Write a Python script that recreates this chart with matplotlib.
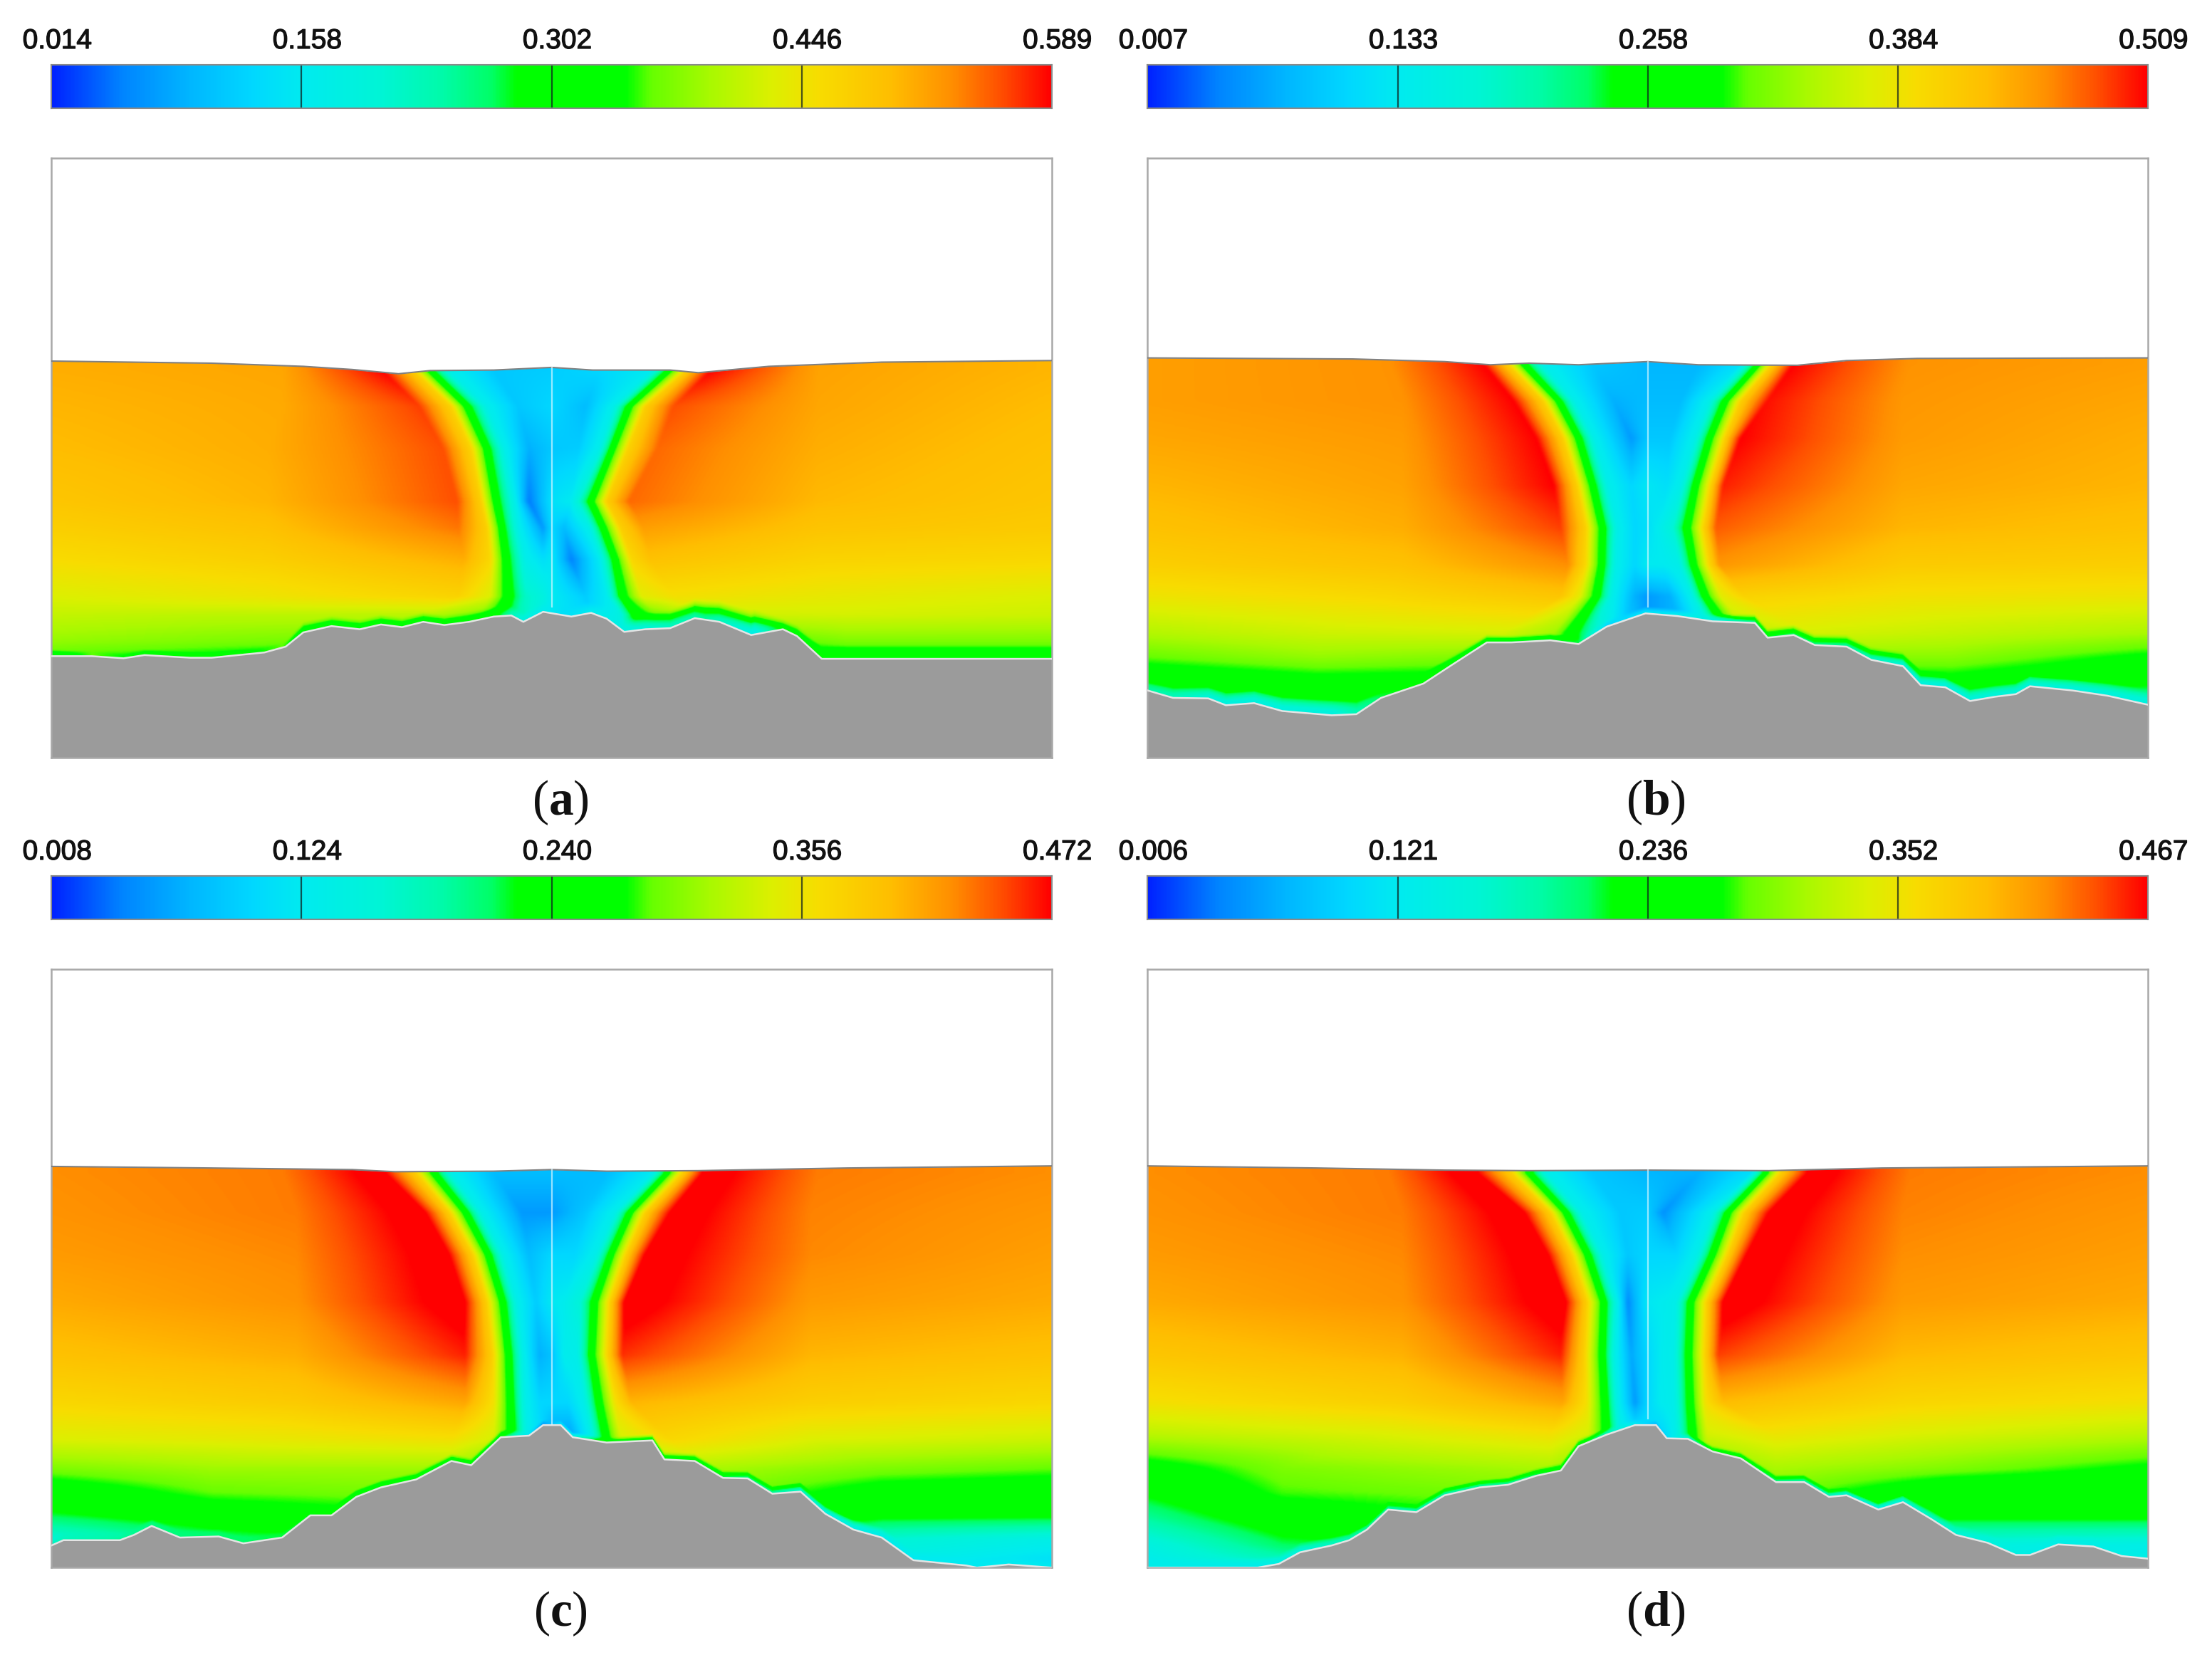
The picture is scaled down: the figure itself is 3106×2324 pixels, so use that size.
#!/usr/bin/python
import numpy as np
import matplotlib
matplotlib.use("Agg")
import matplotlib.pyplot as plt
import matplotlib.patheffects as pe
from matplotlib.colors import LinearSegmentedColormap

plt.rcParams["mathtext.fontset"] = "custom"
plt.rcParams["mathtext.rm"] = "Liberation Serif"
plt.rcParams["mathtext.bf"] = "Liberation Serif:bold"

# colour bar labels of the four panels
labels_a = ["0.014", "0.158", "0.302", "0.446", "0.589"]
labels_b = ["0.007", "0.133", "0.258", "0.384", "0.509"]
labels_c = ["0.008", "0.124", "0.240", "0.356", "0.472"]
labels_d = ["0.006", "0.121", "0.236", "0.352", "0.467"]

# free surface and bed
surf_x_a = [73, 300, 430, 500, 565, 610, 700, 782, 840, 950, 990, 1090, 1250, 1491]
surf_y_a = [684, 688, 694, 700, 708, 702, 701, 696, 701, 701, 706, 694, 686, 683]
bed_x_a = [73, 130, 175, 205, 270, 300, 375, 405, 430, 470, 510, 540, 570, 600, 630, 665, 700, 725, 742, 770, 810, 838, 860, 885, 915, 950, 985, 1020, 1065, 1110, 1130, 1165, 1491]
bed_y_a = [1243, 1243, 1247, 1241, 1246, 1246, 1236, 1225, 1198, 1186, 1192, 1183, 1188, 1178, 1184, 1178, 1168, 1166, 1178, 1159, 1168, 1161, 1172, 1197, 1192, 1190, 1171, 1178, 1203, 1192, 1205, 1248, 1248]

surf_x_b = [59, 350, 480, 545, 600, 670, 768, 840, 980, 1050, 1150, 1477]
surf_y_b = [678, 680, 685, 691, 688, 691, 685, 691, 692, 683, 679, 678]
bed_x_b = [59, 95, 145, 170, 210, 250, 320, 355, 390, 450, 490, 540, 575, 630, 670, 710, 765, 810, 860, 920, 938, 975, 1005, 1050, 1085, 1130, 1155, 1190, 1225, 1260, 1290, 1310, 1370, 1420, 1477]
bed_y_b = [1308, 1322, 1323, 1336, 1332, 1347, 1355, 1353, 1322, 1295, 1260, 1217, 1217, 1213, 1220, 1187, 1162, 1167, 1177, 1180, 1208, 1203, 1222, 1225, 1250, 1262, 1298, 1302, 1328, 1320, 1315, 1300, 1308, 1318, 1335]

surf_x_c = [73, 300, 500, 560, 700, 782, 860, 990, 1200, 1491]
surf_y_c = [642, 645, 648, 652, 651, 648, 651, 650, 645, 641]
bed_x_c = [73, 90, 170, 190, 215, 255, 310, 345, 400, 440, 470, 505, 540, 590, 640, 668, 710, 750, 770, 795, 812, 860, 925, 942, 985, 1025, 1060, 1095, 1135, 1170, 1210, 1250, 1295, 1370, 1385, 1430, 1491]
bed_y_c = [1360, 1350, 1350, 1340, 1323, 1345, 1343, 1356, 1345, 1303, 1303, 1268, 1250, 1235, 1200, 1208, 1155, 1152, 1132, 1132, 1155, 1165, 1161, 1197, 1200, 1232, 1233, 1262, 1258, 1300, 1330, 1345, 1388, 1398, 1402, 1396, 1402]

surf_x_d = [59, 300, 480, 600, 768, 940, 1100, 1477]
surf_y_d = [641, 645, 649, 650, 649, 650, 645, 641]
bed_x_d = [59, 215, 245, 275, 320, 345, 370, 400, 440, 480, 530, 570, 610, 645, 670, 710, 750, 780, 795, 825, 860, 900, 950, 990, 1025, 1050, 1095, 1130, 1170, 1205, 1250, 1290, 1310, 1350, 1400, 1440, 1477]
bed_y_d = [1402, 1402, 1395, 1373, 1360, 1350, 1330, 1292, 1297, 1265, 1250, 1245, 1228, 1218, 1172, 1150, 1132, 1132, 1157, 1158, 1182, 1195, 1240, 1240, 1268, 1265, 1292, 1278, 1310, 1340, 1355, 1378, 1378, 1358, 1362, 1380, 1385]

# field control rows: y level, node x positions, value as a fraction of the colour bar
rows_a = [700, 770, 850, 950, 1000, 1060, 1130, 1165, 1215, 1250]
nodes_a = [
    [73, 400, 540, 585, 608, 635, 700, 782, 850, 925, 950, 975, 1010, 1160, 1491],
    [73, 400, 595, 640, 662, 690, 735, 782, 830, 870, 892, 915, 955, 1160, 1491],
    [73, 380, 628, 668, 690, 715, 750, 782, 820, 850, 868, 890, 932, 1160, 1491],
    [73, 380, 648, 682, 703, 730, 750, 782, 810, 820, 838, 860, 892, 1160, 1491],
    [73, 380, 650, 690, 711, 735, 770, 782, 800, 835, 855, 880, 912, 1160, 1491],
    [73, 380, 658, 695, 717, 745, 770, 782, 810, 850, 872, 895, 922, 1160, 1491],
    [73, 380, 650, 695, 720, 745, 770, 782, 830, 860, 882, 910, 955, 1160, 1491],
    [73, 300, 600, 680, 712, 735, 770, 782, 840, 880, 900, 930, 1000, 1200, 1491],
    [73, 300, 600, 680, 712, 735, 770, 782, 840, 880, 900, 930, 1000, 1200, 1491],
    [73, 300, 600, 680, 712, 735, 770, 782, 840, 880, 900, 930, 1000, 1200, 1491],
]
frac_a = [
    [.86, .87, 1.0, .80, .52, .27, .17, .18, .20, .25, .52, .80, 1.0, .875, .85],
    [.85, .865, .96, .79, .52, .27, .17, .20, .15, .27, .52, .80, .95, .87, .84],
    [.84, .86, .95, .79, .52, .27, .13, .17, .18, .27, .52, .79, .93, .86, .83],
    [.82, .85, .95, .80, .52, .27, .06, .22, .25, .33, .52, .80, .93, .845, .82],
    [.80, .83, .92, .80, .52, .27, .10, .20, .15, .27, .52, .80, .88, .825, .81],
    [.77, .80, .86, .78, .52, .27, .22, .24, .07, .25, .52, .78, .83, .79, .78],
    [.72, .75, .79, .72, .52, .35, .30, .25, .18, .25, .52, .73, .76, .74, .72],
    [.69, .68, .68, .62, .52, .38, .28, .24, .20, .30, .52, .60, .70, .71, .70],
    [.64, .62, .60, .56, .50, .38, .28, .24, .20, .30, .50, .56, .56, .62, .62],
    [.58, .55, .50, .50, .50, .38, .28, .24, .20, .30, .50, .50, .50, .52, .52],
]
layer_x_a = [73, 130, 280, 400, 430, 700, 740, 800, 890, 1000, 1070, 1110, 1160, 1491]
layer_v_a = [.50, .60, .50, .60, .50, .50, .30, .22, .30, .40, .28, .50, .50, .50]
layer_h_a = [14, 12, 12, 12, 22, 20, 20, 20, 30, 42, 50, 22, 26, 26]

rows_b = [690, 760, 830, 920, 1000, 1070, 1130, 1200, 1245, 1285, 1340]
nodes_b = [
    [59, 400, 535, 570, 592, 620, 690, 768, 840, 900, 925, 945, 975, 1140, 1477],
    [59, 420, 578, 620, 642, 665, 720, 768, 815, 855, 878, 900, 938, 1130, 1477],
    [59, 420, 610, 648, 670, 692, 745, 768, 800, 835, 856, 878, 900, 1130, 1477],
    [59, 420, 635, 668, 690, 712, 745, 768, 795, 815, 836, 858, 875, 1130, 1477],
    [59, 420, 645, 680, 704, 725, 750, 768, 785, 803, 824, 848, 865, 1130, 1477],
    [59, 420, 655, 680, 703, 723, 750, 768, 790, 812, 833, 855, 870, 1130, 1477],
    [59, 400, 645, 672, 696, 718, 750, 768, 800, 830, 849, 872, 905, 1130, 1477],
    [59, 300, 560, 635, 660, 685, 730, 768, 820, 860, 885, 910, 1000, 1200, 1477],
    [59, 300, 560, 635, 660, 685, 730, 768, 820, 860, 885, 910, 1000, 1200, 1477],
    [59, 300, 560, 635, 660, 685, 730, 768, 820, 860, 885, 910, 1000, 1200, 1477],
    [59, 300, 560, 635, 660, 685, 730, 768, 820, 860, 885, 910, 1000, 1200, 1477],
]
frac_b = [
    [.88, .895, 1.0, .80, .52, .27, .17, .14, .14, .22, .52, .80, 1.0, .895, .88],
    [.88, .895, 1.0, .80, .52, .27, .13, .15, .15, .27, .52, .80, .99, .89, .87],
    [.87, .885, 1.0, .80, .52, .27, .10, .17, .17, .27, .52, .80, 1.0, .885, .86],
    [.85, .875, 1.0, .80, .52, .27, .20, .24, .22, .27, .52, .80, .98, .87, .85],
    [.83, .86, .96, .80, .52, .27, .20, .22, .26, .32, .52, .80, .94, .85, .83],
    [.80, .83, .90, .78, .52, .27, .20, .25, .25, .27, .52, .78, .89, .81, .80],
    [.75, .78, .82, .73, .52, .27, .13, .10, .13, .27, .52, .73, .79, .76, .75],
    [.67, .70, .71, .65, .52, .38, .20, .10, .15, .30, .52, .68, .71, .69, .66],
    [.60, .64, .62, .60, .52, .38, .20, .10, .15, .30, .52, .60, .63, .63, .56],
    [.52, .56, .55, .55, .52, .38, .20, .10, .15, .30, .52, .55, .55, .56, .50],
    [.42, .46, .46, .46, .46, .38, .20, .10, .15, .30, .46, .46, .46, .42, .36],
]
layer_x_b = [59, 170, 320, 390, 490, 570, 670, 710, 860, 940, 1050, 1150, 1300, 1477]
layer_v_b = [.40, .30, .30, .45, .50, .45, .45, .20, .30, .45, .40, .30, .32, .30]
layer_h_b = [25, 30, 35, 25, 20, 15, 15, 15, 15, 20, 25, 30, 30, 30]

rows_c = [655, 730, 810, 900, 1000, 1090, 1160, 1215, 1260, 1300, 1350, 1402]
nodes_c = [
    [73, 400, 540, 590, 615, 640, 700, 782, 860, 925, 946, 968, 1000, 1160, 1491],
    [73, 420, 598, 637, 660, 683, 740, 782, 830, 872, 893, 915, 955, 1150, 1491],
    [73, 420, 632, 670, 692, 714, 750, 782, 815, 845, 866, 888, 918, 1150, 1491],
    [73, 420, 655, 690, 713, 733, 760, 782, 800, 822, 843, 865, 888, 1150, 1491],
    [73, 420, 660, 698, 721, 742, 765, 782, 800, 818, 839, 862, 882, 1150, 1491],
    [73, 420, 660, 700, 724, 745, 765, 782, 805, 828, 849, 872, 895, 1150, 1491],
    [73, 400, 640, 700, 727, 748, 770, 782, 810, 838, 859, 880, 950, 1150, 1491],
    [73, 300, 640, 690, 727, 748, 770, 782, 810, 838, 859, 880, 1000, 1250, 1491],
    [73, 300, 640, 690, 727, 748, 770, 782, 810, 838, 859, 880, 1000, 1250, 1491],
    [73, 300, 640, 690, 727, 748, 770, 782, 810, 838, 859, 880, 1000, 1250, 1491],
    [73, 300, 640, 690, 727, 748, 770, 782, 810, 838, 859, 880, 1000, 1250, 1491],
    [73, 300, 640, 690, 727, 748, 770, 782, 810, 838, 859, 880, 1000, 1250, 1491],
]
frac_c = [
    [.90, .915, 1.03, .80, .52, .27, .15, .15, .15, .25, .52, .80, 1.03, .915, .90],
    [.895, .915, 1.03, .80, .52, .27, .10, .10, .17, .27, .52, .80, 1.03, .91, .89],
    [.885, .905, 1.03, .80, .52, .27, .15, .20, .20, .27, .52, .80, 1.03, .905, .88],
    [.865, .895, 1.03, .80, .52, .27, .18, .24, .26, .32, .52, .80, 1.03, .885, .865],
    [.83, .86, .98, .80, .52, .27, .13, .16, .26, .27, .52, .80, .97, .85, .83],
    [.78, .81, .87, .76, .52, .27, .20, .20, .20, .27, .52, .76, .85, .80, .78],
    [.72, .74, .76, .71, .52, .27, .20, .10, .10, .27, .52, .71, .78, .72, .70],
    [.62, .65, .65, .60, .52, .30, .20, .10, .10, .30, .52, .60, .66, .62, .60],
    [.52, .60, .62, .58, .52, .30, .20, .10, .10, .30, .52, .58, .63, .54, .52],
    [.46, .53, .58, .56, .52, .30, .20, .10, .10, .30, .52, .56, .60, .50, .50],
    [.32, .42, .50, .50, .50, .30, .20, .10, .10, .30, .50, .50, .50, .33, .28],
    [.26, .34, .45, .45, .45, .30, .20, .10, .10, .30, .45, .45, .45, .26, .20],
]
layer_x_c = [73, 215, 400, 640, 710, 770, 860, 950, 1095, 1170, 1295, 1491]
layer_v_c = [.36, .42, .45, .50, .50, .10, .55, .50, .40, .30, .25, .25]
layer_h_c = [15, 15, 15, 15, 15, 10, 10, 15, 15, 20, 20, 20]

rows_d = [655, 730, 810, 900, 1000, 1090, 1150, 1215, 1260, 1310, 1360, 1402]
nodes_d = [
    [59, 400, 520, 575, 600, 625, 690, 768, 840, 915, 935, 957, 1000, 1140, 1477],
    [59, 420, 588, 630, 652, 675, 730, 768, 790, 860, 882, 905, 945, 1130, 1477],
    [59, 420, 622, 660, 683, 705, 740, 768, 810, 838, 860, 882, 912, 1130, 1477],
    [59, 420, 648, 682, 706, 725, 740, 768, 795, 808, 829, 852, 878, 1130, 1477],
    [59, 420, 645, 678, 704, 722, 745, 768, 790, 805, 826, 850, 868, 1130, 1477],
    [59, 420, 648, 682, 708, 726, 750, 768, 785, 806, 828, 850, 875, 1130, 1477],
    [59, 400, 630, 685, 711, 730, 750, 768, 790, 808, 831, 852, 950, 1130, 1477],
    [59, 250, 630, 685, 711, 730, 750, 768, 790, 808, 831, 852, 950, 1200, 1477],
    [59, 250, 630, 685, 711, 730, 750, 768, 790, 808, 831, 852, 950, 1200, 1477],
    [59, 250, 630, 685, 711, 730, 750, 768, 790, 808, 831, 852, 950, 1200, 1477],
    [59, 250, 630, 685, 711, 730, 750, 768, 790, 808, 831, 852, 950, 1200, 1477],
    [59, 250, 630, 685, 711, 730, 750, 768, 790, 808, 831, 852, 950, 1200, 1477],
]
frac_d = [
    [.90, .915, 1.03, .80, .52, .27, .17, .14, .13, .22, .52, .80, 1.03, .915, .90],
    [.895, .915, 1.03, .80, .52, .27, .17, .18, .09, .27, .52, .80, 1.03, .91, .89],
    [.885, .905, 1.03, .80, .52, .27, .17, .20, .20, .27, .52, .80, 1.03, .90, .88],
    [.865, .895, 1.03, .80, .52, .27, .08, .24, .26, .27, .52, .80, 1.03, .885, .865],
    [.82, .855, .98, .80, .52, .27, .12, .20, .26, .27, .52, .80, .96, .845, .82],
    [.76, .80, .87, .76, .52, .27, .10, .20, .25, .27, .52, .76, .84, .785, .76],
    [.68, .72, .76, .71, .52, .27, .25, .22, .20, .27, .52, .71, .75, .72, .68],
    [.54, .62, .66, .60, .52, .30, .25, .22, .20, .30, .52, .60, .66, .62, .56],
    [.48, .59, .62, .58, .52, .30, .25, .22, .20, .30, .52, .58, .62, .50, .50],
    [.40, .52, .60, .55, .52, .30, .25, .22, .20, .30, .52, .55, .55, .47, .47],
    [.30, .44, .50, .50, .50, .30, .25, .22, .20, .30, .50, .50, .50, .30, .28],
    [.25, .33, .45, .45, .45, .30, .25, .22, .20, .30, .45, .45, .45, .26, .24],
]
layer_x_d = [59, 215, 370, 440, 570, 670, 780, 860, 950, 1095, 1170, 1310, 1477]
layer_v_d = [.27, .27, .40, .38, .40, .50, .15, .50, .42, .30, .35, .28, .28]
layer_h_d = [20, 20, 15, 15, 15, 15, 10, 12, 15, 15, 20, 20, 20]

# where the thin centre line stops
line_end = {"a": 1150, "b": 1150, "c": 1130, "d": 1120}

stops = [(0.0, "#0022ff"), (0.07, "#0085ff"), (0.14, "#00b8ff"), (0.20, "#00d8ff"),
         (0.25, "#00ebf0"), (0.33, "#00f5d5"), (0.39, "#00fbaa"), (0.44, "#00ff66"),
         (0.465, "#00ff00"), (0.575, "#00ff00"), (0.60, "#66ff00"), (0.66, "#aaf900"),
         (0.72, "#dcf000"), (0.77, "#f8dc00"), (0.84, "#ffbe00"), (0.90, "#ff9000"),
         (0.95, "#ff5000"), (1.0, "#ff0000")]
cmap = LinearSegmentedColormap.from_list("flow", stops, N=512)

W, H = 3106, 2324
fig = plt.figure(figsize=(W / 100, H / 100), dpi=100)
fig.patch.set_facecolor("white")


def px_axes(left, top, right, bottom):
    return fig.add_axes([left / W, 1 - bottom / H, (right - left) / W, (bottom - top) / H])


def smooth(a, n):
    # short box blur over both directions, to take the kinks out of the row data
    k = np.ones(n) / n
    a = np.apply_along_axis(lambda r: np.convolve(np.pad(r, n, mode="edge"), k, mode="same")[n:-n], 1, a)
    a = np.apply_along_axis(lambda r: np.convolve(np.pad(r, n, mode="edge"), k, mode="same")[n:-n], 0, a)
    return a


def build_field(xs, ys, rows, nodes, frac, bed_x, bed_y, lx, lv, lh):
    nodes = np.array(nodes, dtype=float)
    frac = np.array(frac, dtype=float)
    field = np.zeros((len(ys), len(xs)))
    for j, y in enumerate(ys):
        pos = np.clip(np.searchsorted(rows, y) - 1, 0, len(rows) - 2)
        t = np.clip((y - rows[pos]) / (rows[pos + 1] - rows[pos]), 0, 1)
        xr = nodes[pos] * (1 - t) + nodes[pos + 1] * t
        fr = frac[pos] * (1 - t) + frac[pos + 1] * t
        field[j] = np.interp(xs, xr, fr)
    field = smooth(field, 3)
    # thin layer hugging the bed
    gx, gy = np.meshgrid(xs, ys)
    d = np.interp(gx, bed_x, bed_y) - gy
    s = np.clip(d / np.interp(gx, lx, lh), 0, 1)
    s = s * s * (3 - 2 * s)
    wall = np.interp(gx, lx, lv)
    return wall + (field - wall) * s


def panel(key, xl, yt, yb, left, right, bar_top, bar_bot, top, bottom, label_y, tag_x, tag_y,
          labels, surf_x, surf_y, bed_x, bed_y, rows, nodes, frac, lx, lv, lh):
    lo, hi = float(labels[0]), float(labels[-1])
    # colour bar
    cax = px_axes(left, bar_top, right, bar_bot)
    ramp = np.linspace(lo, hi, 800).reshape(1, -1)
    cax.imshow(ramp, cmap=cmap, vmin=lo, vmax=hi, aspect="auto", extent=[lo, hi, 0, 1])
    ticks = np.linspace(lo, hi, 5)
    for v in ticks[1:-1]:
        cax.axvline(v, color="#102020", lw=1.6, alpha=0.75)
    cax.set_xticks([])
    cax.set_yticks([])
    for s in cax.spines.values():
        s.set_color("#8a8a8a")
        s.set_linewidth(1.5)
    for v, lab in zip(ticks, labels):
        fx = (left + (v - lo) / (hi - lo) * (right - left)) / W
        t = fig.text(fx + 8 / W, 1 - label_y / H, lab, ha="center", va="center", fontsize=28,
                     family="Liberation Sans", color="#111111")
        t.set_path_effects([pe.withStroke(linewidth=0.9, foreground="#111111")])

    # field
    ax = px_axes(left, top, right, bottom)
    xs = np.linspace(xl, xl + 1418, 800)
    ys = np.linspace(yt, yb, 640)
    field = build_field(xs, ys, np.array(rows, dtype=float), nodes, frac, bed_x, bed_y, lx, lv, lh)
    ax.imshow(lo + field * (hi - lo), cmap=cmap, vmin=lo, vmax=hi, aspect="auto",
              extent=[xl, xl + 1418, yb, yt], origin="upper", interpolation="bilinear", zorder=1)
    ax.fill_between(surf_x, yt, surf_y, color="white", lw=0, zorder=2)
    ax.fill_between(bed_x, bed_y, yb, color="#9b9b9b", lw=0, zorder=2)
    ax.plot(bed_x, bed_y, color="#e4e4e4", lw=1.8, zorder=3)
    ax.plot(surf_x, surf_y, color="#808080", lw=1.5, zorder=3)
    xc = xl + 709
    yc = np.interp(xc, surf_x, surf_y)
    ax.plot([xc, xc], [yc, line_end[key]], color="#d8f6ff", lw=1.6, alpha=0.7, zorder=3)
    ax.set_xlim(xl, xl + 1418)
    ax.set_ylim(yb, yt)
    ax.set_xticks([])
    ax.set_yticks([])
    for s in ax.spines.values():
        s.set_color("#a8a8a8")
        s.set_linewidth(1.8)
    fig.text(tag_x / W, 1 - tag_y / H, "($\\mathbf{%s}$)" % key, ha="center", va="center",
             fontsize=50, family="Liberation Serif", color="#111111")


panel("a", 73, 300, 1435, 72.3, 1476.7, 91, 152, 222.4, 1063.7, 58, 787, 1127, labels_a,
      surf_x_a, surf_y_a, bed_x_a, bed_y_a, rows_a, nodes_a, frac_a, layer_x_a, layer_v_a, layer_h_a)
panel("b", 59, 300, 1435, 1611.4, 3015.8, 91, 152, 222.4, 1063.7, 58, 2325, 1127, labels_b,
      surf_x_b, surf_y_b, bed_x_b, bed_y_b, rows_b, nodes_b, frac_b, layer_x_b, layer_v_b, layer_h_b)
panel("c", 73, 268, 1402, 72.3, 1476.7, 1230, 1291, 1360.7, 2201.3, 1197, 787, 2266, labels_c,
      surf_x_c, surf_y_c, bed_x_c, bed_y_c, rows_c, nodes_c, frac_c, layer_x_c, layer_v_c, layer_h_c)
panel("d", 59, 268, 1402, 1611.4, 3015.8, 1230, 1291, 1360.7, 2201.3, 1197, 2325, 2266, labels_d,
      surf_x_d, surf_y_d, bed_x_d, bed_y_d, rows_d, nodes_d, frac_d, layer_x_d, layer_v_d, layer_h_d)

fig.savefig("out.png", dpi=100, facecolor="white")
